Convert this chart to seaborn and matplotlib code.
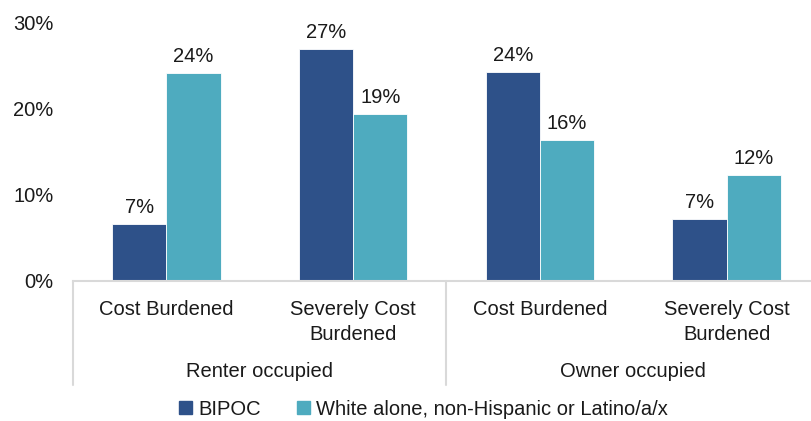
import pandas as pd
import numpy as np
import matplotlib.pyplot as plt
import matplotlib.transforms as mtransforms
import seaborn as sns

tenure = ['Renter occupied', 'Renter occupied', 'Owner occupied', 'Owner occupied']
burden = ['Cost Burdened', 'Severely Cost\nBurdened', 'Cost Burdened', 'Severely Cost\nBurdened']
bipoc = [0.066, 0.269, 0.243, 0.072]
white = [0.241, 0.194, 0.164, 0.123]
groups = ['BIPOC', 'White alone, non-Hispanic or Latino/a/x']
colors = ['#2E5189', '#4EABBF']

slots = [f'{t}|{b}' for t, b in zip(tenure, burden)]
df = pd.DataFrame({
    'slot': slots * 2,
    'race': [groups[0]] * 4 + [groups[1]] * 4,
    'value': bipoc + white,
})

sns.set_style('white')
plt.rcParams['font.family'] = ['Liberation Sans', 'DejaVu Sans']
txt = '#1a1a1a'
fs = 14.5

fig = plt.figure(figsize=(8.12, 4.21), dpi=100)
ax = fig.add_axes([73 / 812, 140 / 421, 747 / 812, 258.5 / 421])

sns.barplot(data=df, x='slot', y='value', hue='race', order=slots,
            palette=colors, saturation=1, width=0.58, gap=0,
            edgecolor='white', linewidth=0.6, ax=ax, legend=False)

ax.set_xlim(-0.5, 3.5)
ax.set_ylim(0, 0.30)
ax.set_yticks([0, 0.1, 0.2, 0.3])
ax.set_yticklabels(['0%', '10%', '20%', '30%'])
ax.set_xticks(range(4))
ax.set_xticklabels(burden, linespacing=1.4)
ax.tick_params(axis='both', length=0, labelsize=fs, labelcolor=txt)
ax.tick_params(axis='y', pad=14)
ax.tick_params(axis='x', pad=14)
ax.set_xlabel('')
ax.set_ylabel('')
for s in ['left', 'top', 'right']:
    ax.spines[s].set_visible(False)
ax.spines['bottom'].set_color('#D9D9D9')
ax.spines['bottom'].set_linewidth(1.5)

for cont in ax.containers:
    for bar in cont:
        h = bar.get_height()
        ax.annotate(f'{h * 100:.0f}%', (bar.get_x() + bar.get_width() / 2, h),
                    xytext=(0, 5), textcoords='offset points',
                    ha='center', va='bottom', fontsize=fs, color=txt)

trans = mtransforms.blended_transform_factory(ax.transData, ax.transAxes)
for xs in [-0.5, 1.5, 3.5]:
    ax.plot([xs, xs], [0, -0.402], transform=trans, color='#D9D9D9',
            lw=1.5, clip_on=False)
ax.text(0.5, -0.352, 'Renter occupied', transform=trans, ha='center',
        va='center', fontsize=fs, color=txt)
ax.text(2.5, -0.352, 'Owner occupied', transform=trans, ha='center',
        va='center', fontsize=fs, color=txt)

handles = [plt.Rectangle((0, 0), 1, 1, color=c) for c in colors]
fig.legend(handles, groups, loc='center', bbox_to_anchor=(0.522, 0.028),
           ncol=2, frameon=False, fontsize=fs, handlelength=0.65,
           handleheight=0.65, handletextpad=0.3, columnspacing=1.8,
           labelcolor=txt)

fig.savefig('out.png', dpi=100)
